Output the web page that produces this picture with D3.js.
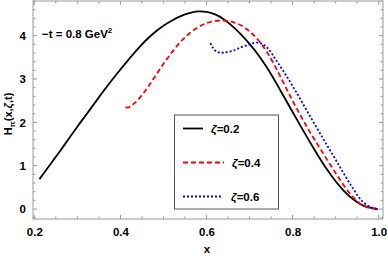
<!DOCTYPE html>
<html>
<head>
<meta charset="utf-8">
<script src="https://cdn.jsdelivr.net/npm/d3@7"></script>
<style>
  body { margin: 0; background: #fff; }
  text { font-family: "Liberation Sans", Arial, sans-serif; font-weight: bold; }
</style>
</head>
<body>
<svg id="chart" width="388" height="260"></svg>
<script>
// values
const xTicks = [0.2, 0.4, 0.6, 0.8, 1.0];
const yTicks = [0, 1, 2, 3, 4];

const zeta02 = [
    [0.212, 0.69], [0.24, 1.07], [0.26, 1.34], [0.28, 1.62], [0.30, 1.90],
    [0.32, 2.17], [0.34, 2.44], [0.36, 2.71], [0.38, 2.97], [0.40, 3.22],
    [0.42, 3.46], [0.44, 3.69], [0.46, 3.90], [0.48, 4.08], [0.50, 4.23],
    [0.52, 4.35], [0.54, 4.45], [0.56, 4.52], [0.58, 4.56], [0.60, 4.55],
    [0.62, 4.49], [0.64, 4.38], [0.66, 4.22], [0.68, 4.03], [0.70, 3.81],
    [0.72, 3.56], [0.74, 3.27], [0.76, 2.94], [0.78, 2.59], [0.80, 2.24],
    [0.82, 1.89], [0.84, 1.55], [0.86, 1.22], [0.88, 0.91], [0.90, 0.64],
    [0.92, 0.41], [0.94, 0.23], [0.96, 0.10], [0.98, 0.03], [0.998, 0.0]
];
const zeta04 = [
    [0.412, 2.35], [0.416, 2.34], [0.422, 2.36], [0.43, 2.42], [0.44, 2.51],
    [0.46, 2.76], [0.48, 3.05], [0.50, 3.35], [0.52, 3.62], [0.54, 3.86],
    [0.56, 4.05], [0.58, 4.19], [0.60, 4.29], [0.62, 4.34], [0.64, 4.35],
    [0.66, 4.32], [0.68, 4.24], [0.70, 4.10], [0.72, 3.90], [0.74, 3.63],
    [0.76, 3.28], [0.78, 2.89], [0.80, 2.50], [0.82, 2.13], [0.84, 1.78],
    [0.86, 1.46], [0.88, 1.14], [0.90, 0.83], [0.92, 0.53], [0.94, 0.28],
    [0.96, 0.10], [0.98, 0.02], [0.998, 0.0]
];
const zeta06 = [
    [0.609, 3.83], [0.615, 3.72], [0.621, 3.65], [0.63, 3.61], [0.64, 3.61],
    [0.66, 3.65], [0.68, 3.73], [0.70, 3.80], [0.715, 3.84], [0.73, 3.81],
    [0.745, 3.68], [0.76, 3.46], [0.78, 3.16], [0.80, 2.84], [0.82, 2.50],
    [0.84, 2.15], [0.86, 1.81], [0.88, 1.47], [0.90, 1.14], [0.92, 0.80],
    [0.94, 0.48], [0.96, 0.20], [0.98, 0.05], [0.998, 0.0]
];

const series = [
    { name: "ζ=0.2", data: zeta02, color: "#000000", dash: null, sample: 20 },
    { name: "ζ=0.4", data: zeta04, color: "#ff0000", dash: "5,3", sample: 41 },
    { name: "ζ=0.6", data: zeta06, color: "#0000ff", dash: "2,2", sample: 40 }
];

const svg = d3.select("#chart");
const margin = { left: 33, right: 5, top: 1, bottom: 41 };
const W = 388, H = 260;

const x = d3.scaleLinear().domain([0.197, 1.01]).range([margin.left, W - margin.right]);
const y = d3.scaleLinear().domain([-0.23, 4.80]).range([H - margin.bottom, margin.top]);

const frameColor = "#999";

// minor + major ticks, drawn inward on all four sides
const xMinor = d3.range(0.2, 1.0001, 0.05);
const yMinor = d3.range(-0.2, 4.8001, 0.2);
const isMajor = (v, step) => Math.abs(v / step - Math.round(v / step)) < 1e-6;

const g = svg.append("g");

xMinor.forEach(v => {
    let len = isMajor(v, 0.2) ? 4 : 2.5;
    g.append("line").attr("x1", x(v)).attr("x2", x(v))
        .attr("y1", y.range()[0]).attr("y2", y.range()[0] - len)
        .attr("stroke", frameColor);
    g.append("line").attr("x1", x(v)).attr("x2", x(v))
        .attr("y1", y.range()[1]).attr("y2", y.range()[1] + len)
        .attr("stroke", frameColor);
});
yMinor.forEach(v => {
    let len = isMajor(v, 1) ? 4 : 2.5;
    g.append("line").attr("y1", y(v)).attr("y2", y(v))
        .attr("x1", x.range()[0]).attr("x2", x.range()[0] + len)
        .attr("stroke", frameColor);
    g.append("line").attr("y1", y(v)).attr("y2", y(v))
        .attr("x1", x.range()[1]).attr("x2", x.range()[1] - len)
        .attr("stroke", frameColor);
});

g.append("rect")
    .attr("x", x.range()[0]).attr("y", y.range()[1])
    .attr("width", x.range()[1] - x.range()[0])
    .attr("height", y.range()[0] - y.range()[1])
    .attr("fill", "none").attr("stroke", frameColor);

// tick labels
const xAxis = d3.axisBottom(x).tickValues(xTicks).tickSize(0).tickPadding(9)
    .tickFormat(d3.format(".1f"));
const xg = svg.append("g").attr("transform", "translate(0," + y.range()[0] + ")").call(xAxis);
xg.select(".domain").remove();
xg.selectAll("text").attr("font-size", 11.5).attr("fill", "#000")
    .style("font-family", "'Liberation Sans', Arial, sans-serif").style("font-weight", "bold");

const yAxis = d3.axisLeft(y).tickValues(yTicks).tickSize(0).tickPadding(7)
    .tickFormat(d3.format("d"));
const yg = svg.append("g").attr("transform", "translate(" + x.range()[0] + ",0)").call(yAxis);
yg.select(".domain").remove();
yg.selectAll("text").attr("font-size", 11.5).attr("fill", "#000")
    .style("font-family", "'Liberation Sans', Arial, sans-serif").style("font-weight", "bold");

// axis labels
svg.append("text").attr("x", 207).attr("y", 253).attr("text-anchor", "middle")
    .attr("font-size", 11.5).text("x");

let yl = svg.append("text")
    .attr("transform", "translate(12,114) rotate(-90)")
    .attr("text-anchor", "middle").attr("font-size", 11);
yl.append("tspan").text("H");
yl.append("tspan").attr("font-size", 8).attr("dy", 3).text("π");
yl.append("tspan").attr("dy", -3).text("(x,");
yl.append("tspan").attr("font-style", "italic").text("ζ");
yl.append("tspan").text(",t)");

// annotation
let ann = svg.append("text").attr("x", 42).attr("y", 38).attr("font-size", 11.5);
ann.append("tspan").text("−t = 0.8 GeV");
ann.append("tspan").attr("font-size", 8).attr("dy", -5).text("2");

// curves
const line = d3.line()
    .x(d => x(d[0]))
    .y(d => y(d[1]))
    .curve(d3.curveCatmullRom.alpha(0.5));

series.forEach(s => {
    svg.append("path")
        .datum(s.data)
        .attr("d", line)
        .attr("fill", "none")
        .attr("stroke", s.color)
        .attr("stroke-width", 1.8)
        .attr("stroke-dasharray", s.dash);
});

// legend
const lg = svg.append("g");
lg.append("rect").attr("x", 174.5).attr("y", 115).attr("width", 104).attr("height", 94)
    .attr("fill", "#fff").attr("stroke", "#555").attr("stroke-width", 1);

series.forEach((s, i) => {
    let ly = 128.5 + i * 34;
    lg.append("line").attr("x1", 183).attr("x2", 183 + s.sample)
        .attr("y1", ly).attr("y2", ly)
        .attr("stroke", s.color).attr("stroke-width", 1.8)
        .attr("stroke-dasharray", s.dash);
    let t = lg.append("text").attr("x", 183 + s.sample + 8).attr("y", ly + 4.5)
        .attr("font-size", 11.5);
    t.append("tspan").attr("font-style", "italic").text("ζ");
    t.append("tspan").text(s.name.slice(1));
});
</script>
</body>
</html>
